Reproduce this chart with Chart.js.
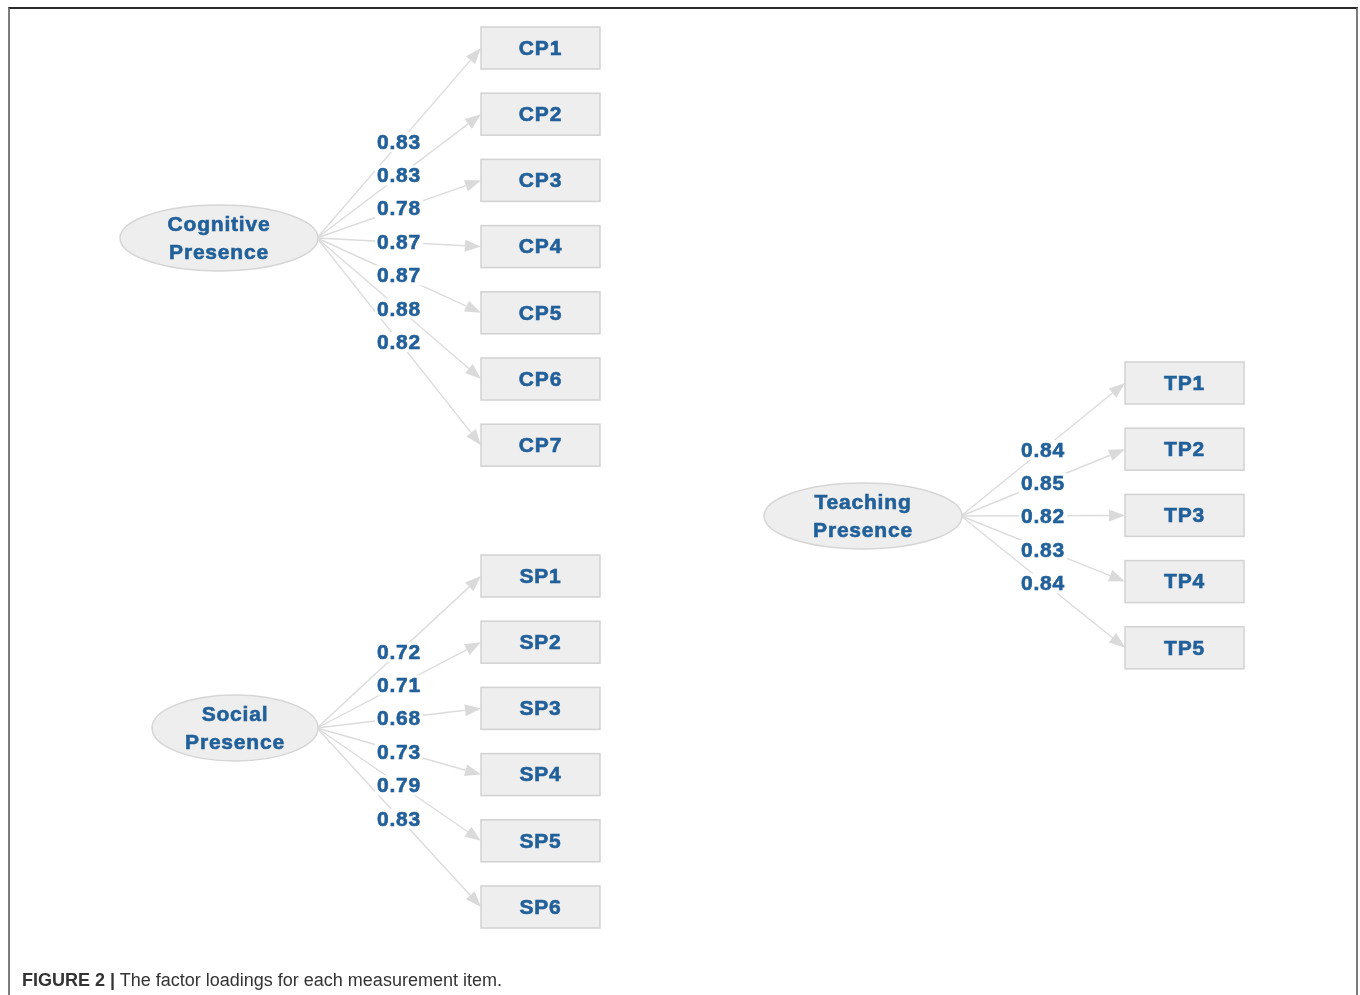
<!DOCTYPE html>
<html>
<head>
<meta charset="utf-8">
<script src="https://cdn.jsdelivr.net/npm/chart.js@4.4.1/dist/chart.umd.min.js"></script>
<style>
  body { margin: 0; background: #fff; }
  #wrap { position: relative; width: 1360px; height: 995px; overflow: hidden; }
  #frame { position: absolute; left: 8px; top: 7px; width: 1346px; height: 1100px;
           border-top: 2px solid #2b2b2b; border-left: 2px solid #7c7c7c; border-right: 2px solid #7c7c7c; }
  canvas { position: absolute; left: 0; top: 0; }
  #caption { position: absolute; left: 22px; top: 971px; font: 18px/18px "Liberation Sans", Arial, sans-serif; color: #333; white-space: nowrap; }
  #caption b { font-weight: bold; }
</style>
</head>
<body>
<div id="wrap">
  <div id="frame"></div>
  <canvas id="diagram" width="1360" height="995"></canvas>
  <div id="caption"><b>FIGURE 2 |</b> The factor loadings for each measurement item.</div>
</div>
<script>
// factor names and item loadings
const factorNames = [['Cognitive', 'Presence'], ['Social', 'Presence'], ['Teaching', 'Presence']];
const cpItems = ['CP1', 'CP2', 'CP3', 'CP4', 'CP5', 'CP6', 'CP7'];
const cpLoadings = [0.83, 0.83, 0.78, 0.87, 0.87, 0.88, 0.82];
const spItems = ['SP1', 'SP2', 'SP3', 'SP4', 'SP5', 'SP6'];
const spLoadings = [0.72, 0.71, 0.68, 0.73, 0.79, 0.83];
const tpItems = ['TP1', 'TP2', 'TP3', 'TP4', 'TP5'];
const tpLoadings = [0.84, 0.85, 0.82, 0.83, 0.84];

// layout of each block (canvas units)
const BOX_W = 119, BOX_H = 42, BOX_STEP = 66.2, LABEL_STEP = 33.35;
const blocks = [
  { items: cpItems, loadings: cpLoadings, cx: 219, cy: 238, rx: 99, ry: 33, boxX: 481, box0: 48, labelX: 399, label0: 142 },
  { items: spItems, loadings: spLoadings, cx: 235, cy: 728, rx: 83, ry: 33, boxX: 481, box0: 576, labelX: 399, label0: 652 },
  { items: tpItems, loadings: tpLoadings, cx: 863, cy: 516, rx: 99, ry: 33, boxX: 1125, box0: 383, labelX: 1043, label0: 450 }
];

const TEXT = '#22609a';
const FONT = 'bold 21px "Liberation Sans", Arial, sans-serif';

// bold text with a thin outline so it reads as heavy as the original
function heavyText(ctx, t, x, y) {
  ctx.fillStyle = TEXT;
  ctx.strokeStyle = TEXT;
  ctx.lineWidth = 0.6;
  ctx.fillText(t, x, y);
  ctx.strokeText(t, x, y);
}

const pathPlugin = {
  id: 'pathPlugin',
  afterDatasetsDraw(chart) {
    const ctx = chart.ctx;
    const xs = chart.scales.x, ys = chart.scales.y;
    const px = v => xs.getPixelForValue(v);
    const py = v => ys.getPixelForValue(v);
    ctx.save();
    ctx.font = FONT;
    ctx.letterSpacing = '0.8px';
    ctx.textAlign = 'center';
    ctx.textBaseline = 'middle';
    blocks.forEach((b, bi) => {
      const meta = chart.getDatasetMeta(bi);
      const sx = px(b.cx + b.rx - 1), sy = py(b.cy);

      // edges with arrow heads
      meta.data.forEach(pt => {
        const ex = px(b.boxX), ey = pt.y;
        const ang = Math.atan2(ey - sy, ex - sx);
        const len = 16, hw = 6;
        const bx = ex - len * Math.cos(ang), by = ey - len * Math.sin(ang);
        ctx.strokeStyle = '#dcdcdc';
        ctx.lineWidth = 1.4;
        ctx.beginPath();
        ctx.moveTo(sx, sy);
        ctx.lineTo(bx, by);
        ctx.stroke();
        ctx.fillStyle = '#dadada';
        ctx.beginPath();
        ctx.moveTo(ex, ey);
        ctx.lineTo(bx + hw * Math.sin(ang), by - hw * Math.cos(ang));
        ctx.lineTo(bx - hw * Math.sin(ang), by + hw * Math.cos(ang));
        ctx.closePath();
        ctx.fill();
      });

      // loading labels
      b.loadings.forEach((v, i) => {
        const t = v.toFixed(2);
        const lx = px(b.labelX), ly = py(b.label0 + i * LABEL_STEP);
        const w = ctx.measureText(t).width;
        ctx.fillStyle = '#fff';
        ctx.fillRect(lx - w / 2 - 2, ly - 10, w + 4, 20);
        heavyText(ctx, t, lx, ly + 1);
      });

      // latent factor ellipse
      const ecx = px(b.cx), ecy = py(b.cy);
      const erx = px(b.cx + b.rx) - ecx, ery = Math.abs(py(b.cy + b.ry) - ecy);
      ctx.fillStyle = '#eeeeee';
      ctx.strokeStyle = '#d6d6d6';
      ctx.lineWidth = 1.5;
      ctx.beginPath();
      ctx.ellipse(ecx, ecy, erx, ery, 0, 0, Math.PI * 2);
      ctx.fill();
      ctx.stroke();
      heavyText(ctx, factorNames[bi][0], ecx, ecy - 13);
      heavyText(ctx, factorNames[bi][1], ecx, ecy + 15);

      // item boxes
      meta.data.forEach((pt, i) => {
        const x0 = px(b.boxX), w = px(b.boxX + BOX_W) - x0;
        const h = Math.abs(py(BOX_H) - py(0));
        ctx.fillStyle = '#eeeeee';
        ctx.strokeStyle = '#d2d2d2';
        ctx.lineWidth = 1.5;
        ctx.fillRect(x0, pt.y - h / 2, w, h);
        ctx.strokeRect(x0, pt.y - h / 2, w, h);
        heavyText(ctx, b.items[i], pt.x, pt.y + 1);
      });
    });
    ctx.restore();
  }
};

const datasets = blocks.map(b => ({
  label: b.items[0].slice(0, 2),
  data: b.items.map((name, i) => ({ x: b.boxX + BOX_W / 2, y: b.box0 + i * BOX_STEP })),
  pointRadius: 0,
  showLine: false
}));

new Chart(document.getElementById('diagram').getContext('2d'), {
  type: 'scatter',
  data: { datasets: datasets },
  options: {
    responsive: false,
    animation: false,
    devicePixelRatio: 1,
    layout: { padding: 0 },
    plugins: { legend: { display: false }, tooltip: { enabled: false } },
    scales: {
      x: { type: 'linear', min: 0, max: 1360, display: false },
      y: { type: 'linear', min: 0, max: 995, reverse: true, display: false }
    }
  },
  plugins: [pathPlugin]
});
</script>
</body>
</html>
